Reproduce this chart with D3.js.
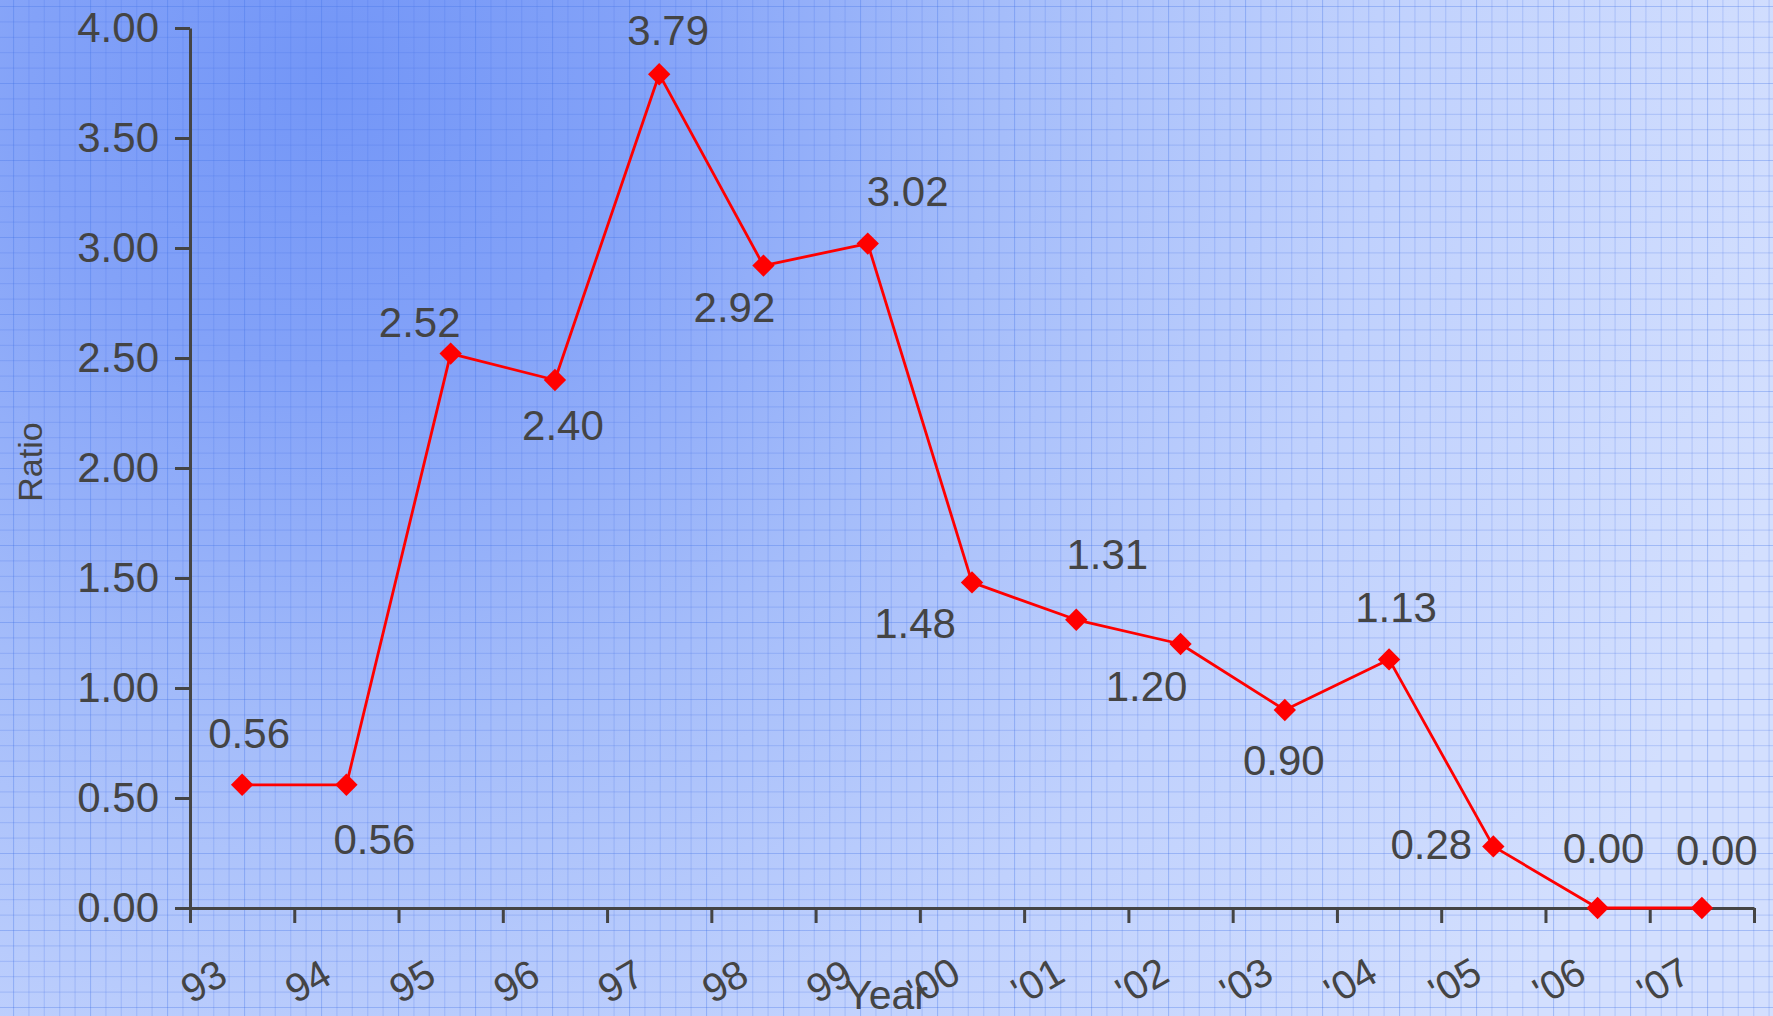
<!DOCTYPE html>
<html>
<head>
<meta charset="utf-8">
<script src="https://cdn.jsdelivr.net/npm/d3@7"></script>
<style>
  html, body { margin: 0; padding: 0; background: #cfdcff; }
  svg { display: block; }
  text { font-family: "Liberation Sans", Arial, Helvetica, sans-serif; fill: #444; }
</style>
</head>
<body>
<svg id="chart" width="1773" height="1016"></svg>
<script>
// Year categories and the ratio recorded for each one
const years = ["93", "94", "95", "96", "97", "98", "99", "'00", "'01", "'02", "'03", "'04", "'05", "'06", "'07"];
const ratios = [0.56, 0.56, 2.52, 2.40, 3.79, 2.92, 3.02, 1.48, 1.31, 1.20, 0.90, 1.13, 0.28, 0.00, 0.00];
const yTicks = [0, 0.5, 1, 1.5, 2, 2.5, 3, 3.5, 4];

// Where each value label sits relative to its point (dx, dy of the label centre)
const labelPlacement = [
  [7, -52], [28, 54], [-31, -32], [8, 45], [9, -44], [-29, 41], [40, -53], [-57, 40],
  [31, -66], [-34, 42], [-1, 50], [7, -53], [-62, -3], [6, -60], [15, -58]
];

const W = 1773, H = 1016;
const plot = { left: 190, right: 1754, top: 28, bottom: 908 };
const axisColor = "#444";

const svg = d3.select("#chart");
const defs = svg.append("defs");

// Soft blue background glow, darkest towards the upper left
const grad = defs.append("radialGradient")
  .attr("id", "bg").attr("gradientUnits", "userSpaceOnUse")
  .attr("cx", 330).attr("cy", 70).attr("r", 1500);
[[0, "#7396f7"], [0.2, "#83a2f8"], [0.45, "#a5bdfa"], [0.7, "#c0d1fd"], [1, "#d3dffe"]]
  .forEach(([o, c]) => grad.append("stop").attr("offset", o).attr("stop-color", c));

// Graph-paper grid: fine cells with a heavier line every fifth cell
const cell = 15.4, block = cell * 5;
const pat = defs.append("pattern")
  .attr("id", "grid").attr("patternUnits", "userSpaceOnUse")
  .attr("x", 13).attr("y", 6)
  .attr("width", block).attr("height", block);
for (let i = 0; i < 5; i++) {
  const p = i * cell;
  const op = i === 0 ? 0.32 : 0.2;
  pat.append("line").attr("x1", p + 0.5).attr("x2", p + 0.5).attr("y1", 0).attr("y2", block)
    .attr("stroke", "#3f6fe8").attr("stroke-opacity", op).attr("stroke-width", 1.2);
  pat.append("line").attr("y1", p + 0.5).attr("y2", p + 0.5).attr("x1", 0).attr("x2", block)
    .attr("stroke", "#3f6fe8").attr("stroke-opacity", op).attr("stroke-width", 1.2);
}

svg.append("rect").attr("width", W).attr("height", H).attr("fill", "url(#bg)");
svg.append("rect").attr("width", W).attr("height", H).attr("fill", "url(#grid)");

// Scales: one slot per year, points sit in the middle of their slot
const x = d3.scaleLinear().domain([0, years.length]).range([plot.left, plot.right]);
const y = d3.scaleLinear().domain([0, 4]).range([plot.bottom, plot.top]);

// Y axis
const yAxis = svg.append("g")
  .attr("transform", `translate(${plot.left},0)`)
  .call(d3.axisLeft(y).tickValues(yTicks).tickFormat(d3.format(".2f"))
    .tickSize(15).tickSizeOuter(0).tickPadding(16));
yAxis.selectAll("path, line").attr("stroke", axisColor).attr("stroke-width", 3);
yAxis.selectAll("text").attr("font-size", 42).attr("fill", axisColor)
  .style("font-family", "'Liberation Sans', Arial, sans-serif");

// X axis: ticks on slot boundaries, slanted year labels
const xAxis = svg.append("g")
  .attr("transform", `translate(0,${plot.bottom})`)
  .call(d3.axisBottom(x).tickValues(d3.range(years.length + 1))
    .tickFormat(i => (i < years.length ? years[i] : ""))
    .tickSize(15).tickSizeOuter(0));
xAxis.selectAll("path, line").attr("stroke", axisColor).attr("stroke-width", 3);
xAxis.selectAll("text")
  .attr("font-size", 40).attr("fill", axisColor)
  .style("font-family", "'Liberation Sans', Arial, sans-serif")
  .attr("text-anchor", "middle")
  .attr("y", 0).attr("dy", "0.35em")
  .attr("transform", "translate(13,73) rotate(-30)");

// Axis titles
svg.append("text")
  .attr("x", W / 2).attr("y", 1009)
  .attr("text-anchor", "middle").attr("font-size", 41)
  .text("Year");
svg.append("text")
  .attr("transform", "translate(42,462) rotate(-90)")
  .attr("text-anchor", "middle").attr("font-size", 34)
  .text("Ratio");

// Series line and diamond markers
const cx = i => x(i + 0.5);
const line = d3.line().x((d, i) => cx(i)).y(d => y(d));
svg.append("path")
  .datum(ratios)
  .attr("d", line)
  .attr("fill", "none").attr("stroke", "#ff0000").attr("stroke-width", 2.8)
  .attr("stroke-linejoin", "round");

const diamond = d3.symbol().type(d3.symbolSquare).size(250);
svg.append("g").selectAll("path")
  .data(ratios)
  .join("path")
  .attr("d", diamond)
  .attr("transform", (d, i) => `translate(${cx(i)},${y(d)}) rotate(45)`)
  .attr("fill", "#ff0000");

// Value labels
const fmt = d3.format(".2f");
svg.append("g").selectAll("text")
  .data(ratios)
  .join("text")
  .attr("x", (d, i) => cx(i) + labelPlacement[i][0])
  .attr("y", (d, i) => y(d) + labelPlacement[i][1])
  .attr("dy", "0.36em")
  .attr("text-anchor", "middle")
  .attr("font-size", 42)
  .text(d => fmt(d));
</script>
</body>
</html>
